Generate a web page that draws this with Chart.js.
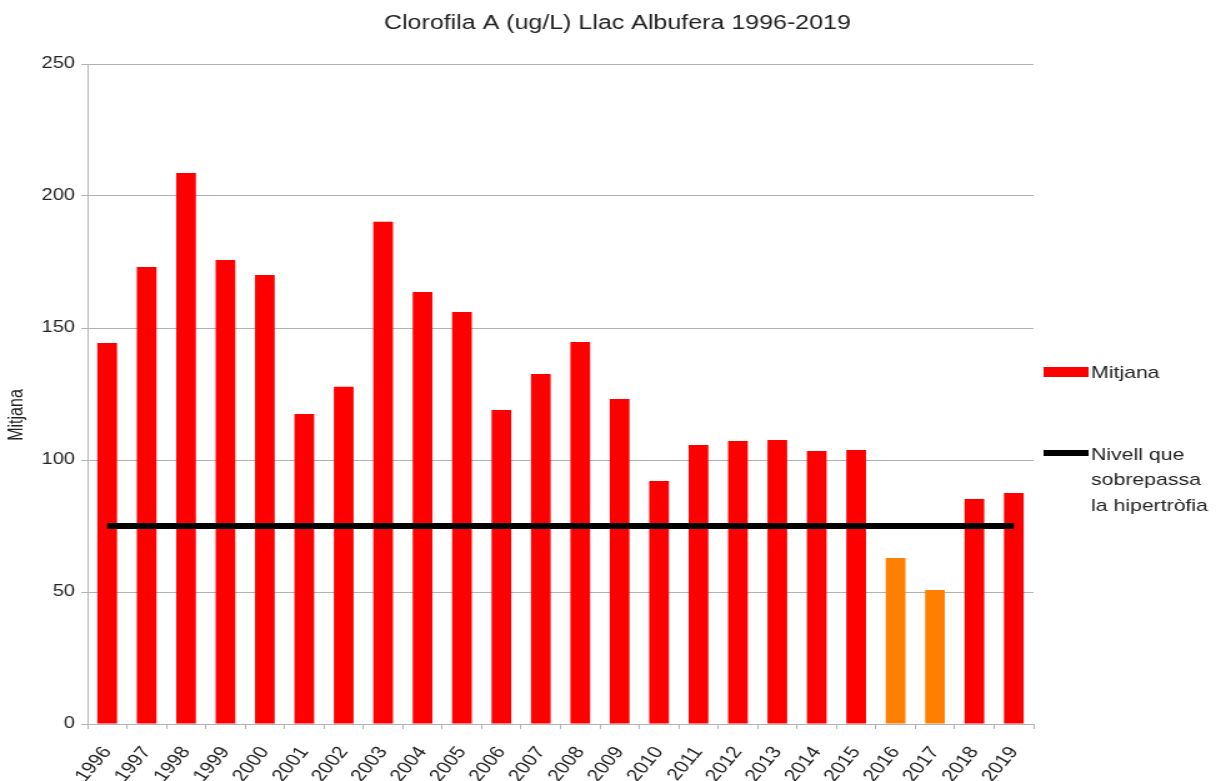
<!DOCTYPE html>
<html>
<head>
<meta charset="utf-8">
<script src="https://cdn.jsdelivr.net/npm/chart.js@4"></script>
<style>
  html, body { margin: 0; padding: 0; background: #fff; overflow: hidden; }
  /* the reference is stretched sideways, so the canvas is drawn narrow and widened by CSS */
  #chart { width: 1221px; height: 781px; display: block; }
</style>
</head>
<body>
<canvas id="chart" width="977" height="781" style="width:1221px;height:781px"></canvas>
<script>
const years = ['1996','1997','1998','1999','2000','2001','2002','2003','2004','2005','2006','2007',
  '2008','2009','2010','2011','2012','2013','2014','2015','2016','2017','2018','2019'];
const mitjana = [144.3, 173.1, 208.7, 175.8, 170.1, 117.4, 127.7, 190.2, 163.6, 156.1, 118.9, 132.6,
  144.7, 123.1, 92.0, 105.7, 107.2, 107.6, 103.4, 103.8, 62.9, 50.8, 85.2, 87.5];
const highlightYears = ['2016', '2017'];
const hipertrofia = years.map(() => 75);
const yTicks = [0, 50, 100, 150, 200, 250];
const titleText = 'Clorofila A (ug/L) Llac Albufera 1996-2019';
const yTitle = 'Mitjana';

const FONT = "'Liberation Sans', Arial, sans-serif";
const TXT = '#222';

// title, y axis title and legend drawn on the canvas
const extras = {
  id: 'extras',
  afterDraw(chart) {
    const ctx = chart.ctx;
    const x = chart.chartArea.right + 8;
    ctx.save();
    ctx.textBaseline = 'middle';
    ctx.textAlign = 'center';
    ctx.fillStyle = TXT;
    ctx.font = '20px ' + FONT;
    ctx.fillText(titleText, 494, 23);

    ctx.save();
    ctx.translate(14, 415);
    ctx.rotate(-Math.PI / 2);
    ctx.font = '16px ' + FONT;
    ctx.fillText(yTitle, 0, 0);
    ctx.restore();

    ctx.textAlign = 'left';
    ctx.font = '17px ' + FONT;
    ctx.fillStyle = '#ff0000';
    ctx.fillRect(x, 367, 36, 10);
    ctx.fillStyle = TXT;
    ctx.fillText(chart.data.datasets[1].label, x + 38, 373);
    ctx.fillStyle = '#000';
    ctx.fillRect(x, 450, 36, 6);
    ctx.fillStyle = TXT;
    const lines = ['Nivell que', 'sobrepassa', 'la hipertròfia'];
    lines.forEach((l, i) => ctx.fillText(l, x + 38, 455 + i * 25.5));
    ctx.restore();
  }
};

new Chart(document.getElementById('chart'), {
  type: 'bar',
  data: {
    labels: years,
    datasets: [
      {
        type: 'line',
        label: 'Nivell que sobrepassa la hipertròfia',
        data: hipertrofia,
        borderColor: '#000',
        borderWidth: 6,
        pointRadius: 0,
        fill: false,
        order: 0
      },
      {
        label: 'Mitjana',
        data: mitjana,
        backgroundColor: years.map(y => highlightYears.includes(y) ? '#ff8000' : '#ff0000'),
        barPercentage: 0.5,
        categoryPercentage: 1.0,
        order: 1
      }
    ]
  },
  options: {
    responsive: false,
    animation: false,
    devicePixelRatio: 1,
    layout: { padding: { right: 150, left: 0, top: 64, bottom: 0 } },
    plugins: {
      legend: { display: false },
      tooltip: { enabled: false },
      title: { display: false }
    },
    scales: {
      x: {
        grid: { display: true, drawOnChartArea: false, drawTicks: true, tickLength: 5, color: '#b3b3b3' },
        border: { color: '#b3b3b3' },
        ticks: {
          color: TXT,
          font: { family: FONT, size: 17 },
          maxRotation: 55,
          minRotation: 55,
          padding: 14
        },
        afterFit(scale) { scale.height = 57; }
      },
      y: {
        min: 0,
        max: 250,
        afterBuildTicks(scale) { scale.ticks = yTicks.map(v => ({ value: v })); },
        grid: { color: '#b3b3b3', tickLength: 5 },
        border: { color: '#b3b3b3' },
        ticks: {
          color: TXT,
          font: { family: FONT, size: 16 },
          padding: 5
        },
        afterFit(scale) { scale.width = 70; }
      }
    }
  },
  plugins: [extras]
});
</script>
</body>
</html>
